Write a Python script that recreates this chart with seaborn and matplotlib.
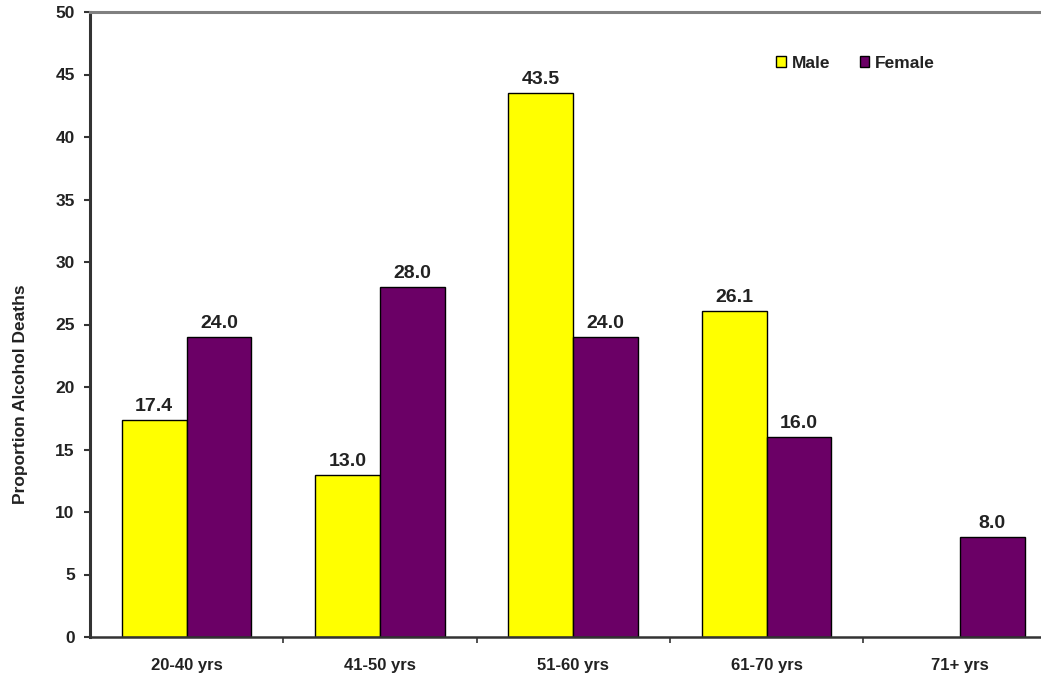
import numpy as np
import pandas as pd
import matplotlib
matplotlib.use("Agg")
import matplotlib.pyplot as plt
import seaborn as sns
from matplotlib.patches import Patch

categories = ["20-40 yrs", "41-50 yrs", "51-60 yrs", "61-70 yrs", "71+ yrs"]
male = [17.4, 13.0, 43.5, 26.1, np.nan]
female = [24.0, 28.0, 24.0, 16.0, 8.0]
series = ["Male", "Female"]
colors = {"Male": "#FFFF00", "Female": "#6B0066"}

df = pd.DataFrame({
    "age": categories * 2,
    "value": male + female,
    "sex": ["Male"] * len(categories) + ["Female"] * len(categories),
})

sns.set_style("white")
plt.rcParams["font.family"] = ["Liberation Sans", "DejaVu Sans"]
plt.rcParams["font.weight"] = "bold"

fig = plt.figure(figsize=(10.41, 6.76), dpi=100)
ax = fig.add_axes([90 / 1041, 39 / 676, 1 - 90 / 1041, (637 - 12) / 676])

sns.barplot(data=df, x="age", y="value", hue="sex", order=categories,
            hue_order=series, palette=colors, saturation=1, width=0.67,
            dodge=True, edgecolor="black", linewidth=1.0, errorbar=None,
            legend=False, ax=ax)

for cont in ax.containers:
    for bar in cont:
        if bar is None:
            continue
        h = bar.get_height()
        if h is None or np.isnan(h):
            continue
        ax.annotate(f"{h:.1f}", (bar.get_x() + bar.get_width() / 2, h),
                    xytext=(0, 3.5), textcoords="offset points",
                    ha="center", va="bottom", fontsize=14,
                    fontweight="bold", color="#222222")

ax.set_xlim(-0.5, 4.42)
ax.set_ylim(0, 50)
ax.set_yticks(np.arange(0, 51, 5))
ax.set_yticklabels([str(v) for v in range(0, 51, 5)], fontsize=12.5,
                   fontweight="bold", color="#222222")
ax.set_xticks(range(len(categories)))
ax.set_xticklabels(categories, fontsize=12, fontweight="bold", color="#222222")
ax.set_xticks(np.arange(0.5, 4.0, 1.0), minor=True)
ax.tick_params(axis="x", which="major", length=0, pad=15)
ax.tick_params(axis="x", which="minor", length=4, width=1.2, direction="out",
               color="#333333", bottom=True)
ax.tick_params(axis="y", which="major", length=4, width=1.5, direction="out",
               color="#333333", pad=7, left=True)

ax.set_xlabel("")
ax.set_ylabel("Proportion Alcohol Deaths", fontsize=12.5, fontweight="bold",
              color="#222222")
ax.yaxis.set_label_coords(-62 / 951, (637 - 394) / 625)

for side in ["left", "bottom"]:
    ax.spines[side].set_visible(True)
    ax.spines[side].set_color("#333333")
    ax.spines[side].set_linewidth(2.2)
ax.spines["bottom"].set_linewidth(1.8)
ax.spines["top"].set_visible(True)
ax.spines["top"].set_color("#808080")
ax.spines["top"].set_linewidth(2.2)
ax.spines["right"].set_visible(False)

handles = [Patch(facecolor=colors[s], edgecolor="black", linewidth=1.0, label=s)
           for s in series]
leg = ax.legend(handles=handles, loc="upper left", bbox_to_anchor=(0.705, 0.955),
                ncol=2, frameon=False, handlelength=0.55, handleheight=0.55,
                handletextpad=0.35, columnspacing=1.7,
                prop={"family": "Liberation Sans", "weight": "bold", "size": 12.5})
for t in leg.get_texts():
    t.set_color("#222222")

fig.savefig("out.png", dpi=100)
